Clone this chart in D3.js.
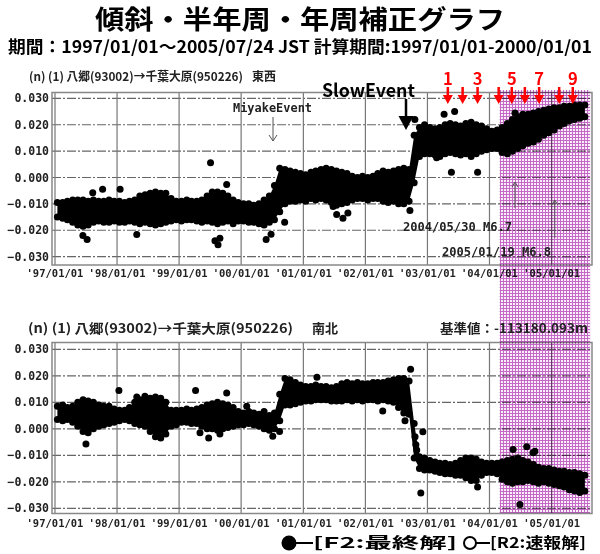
<!DOCTYPE html>
<html lang="ja">
<head>
<meta charset="utf-8">
<title>傾斜・半年周・年周補正グラフ</title>
<script src="https://d3js.org/d3.v7.min.js"></script>
<style>
  body { margin: 0; background: #fff; }
  svg text { font-family: "Noto Sans CJK JP", sans-serif; }
  svg .mono { font-family: "DejaVu Sans Mono", monospace; font-weight: bold; fill: #222; }
</style>
</head>
<body>
<div id="chart"></div>
<script>
"use strict"

// eixo x: rótulos dos anos
const yearDates = ["1997-01-01", "1998-01-01", "1999-01-01", "2000-01-01", "2001-01-01",
                   "2002-01-01", "2003-01-01", "2004-01-01", "2005-01-01"];
const yearLabels = ["'97/01/01", "'98/01/01", "'99/01/01", "'00/01/01", "'01/01/01",
                    "'02/01/01", "'03/01/01", "'04/01/01", "'05/01/01"];
const yTicks = [0.03, 0.02, 0.01, 0, -0.01, -0.02, -0.03];

// envelopes mensais (1997/01 .. 2005/07), em 0.001
const ewHigh = [-9.5,-9.5,-9,-8.5,-8.5,-8.5,-9,-8.5,-9,-9,-8.5,-9,
  -9,-9.5,-9,-8.5,-7,-6.5,-6,-5.5,-6,-6,-8,-9,
  -9,-8.5,-9,-9,-8.5,-7,-5.5,-5.5,-6,-7,-8.5,-9.5,
  -10,-10,-10.5,-10,-8.5,-7,-3,3.5,3,2.5,2,1.5,
  1,2,2.5,3,3.5,3,2.5,2,1.5,0.5,0,0.5,
  0,0.5,1.5,2.5,2,2.5,3,3.5,3,16,19,20,
  19,18.5,19,20,20.5,20,19.5,20.5,21,20,19.5,18.5,
  17.5,18,19,20.5,22,23,24,24,24.5,25,25.5,26,
  26.5,26.5,27,27,27.5,27.5,27.5];
const ewLow = [-15,-15.5,-16,-17,-18,-18.5,-18,-17,-16.5,-17,-17,-16.5,
  -17,-17,-16.5,-17,-17.5,-17,-17.5,-18,-17.5,-17,-16.5,-16,
  -16.5,-16,-16,-16.5,-17,-16.5,-17,-17.5,-17,-16.5,-17.5,-16.5,
  -16.5,-17,-17,-17.5,-18,-17,-16,-13,-10,-9,-9,-8.5,
  -9,-8,-8.5,-8,-8.5,-9.5,-10.5,-10,-9.5,-8.5,-8,-8,
  -8.5,-8,-8,-9,-9.5,-9,-10,-10,-9,-2,8,9,
  9,8.5,8,9,9.5,9,8.5,9,8,9,10,10.5,
  11,11,9.5,9,10,11,12,13,13.5,14.5,16,17,
  18,19.5,20.5,21.5,22,22.5,23];
const nsHigh = [8.5,9,8,8.5,10,11,10.5,10,9,8.5,8.5,7.5,
  7,7,8,10,11,10.5,11.5,12,11.5,10,7,7,
  7,7.5,7,7.5,8,9,9.5,10,9.5,9,8,6.5,
  6,6.5,6,5.5,6.5,5,6,13,19,18.5,17.5,16.5,
  16,16,16.5,16,16,15.5,16,17,17.5,17,17.5,17,
  17,17.5,17.5,17.5,18,18.5,19,19,18,2,-10.5,-11,
  -12,-12.5,-13,-13,-13.5,-13,-12,-11,-11,-11.5,-12.5,-13,
  -13,-13,-12.5,-12,-11.5,-11,-12,-12.5,-13.5,-14.5,-15,-15,
  -15.5,-16,-16,-16.5,-16.5,-17,-17.5];
const nsLow = [3.5,3,3.5,2.5,1,-1,-1.5,0,1,1.5,2,2.5,
  3,3.5,3,2,1.5,1,-1,-3,-3.5,-2,1,1.5,
  2.5,2.5,2,2,1,0,0,-0.5,0,0.5,1,1.5,
  1.5,2,1.5,1,0,-0.5,0,3,9,9,9.5,10,
  10.5,10.5,11,11,11,10.5,10.5,10.5,11,10.5,11,10.5,
  11,11,10.5,11,10.5,10,8,6,5.5,-11,-15,-15.5,
  -15.5,-16,-16.5,-17,-17,-17.5,-17.5,-18.5,-19.5,-19.5,-17.5,-16.5,
  -16.5,-17,-19,-20,-20.5,-20,-20,-19.5,-20,-20.5,-20,-20.5,
  -21,-21.5,-22,-23,-23.5,-24,-23.5];

// pontos isolados [data, valor em 0.001]
const ewOutliers = [["1997-06-14",-22],["1997-07-09",-23.5],["1997-08-11",-5.8],["1997-10-08",-4.5],
  ["1998-01-19",-4.5],["1998-04-27",-21.6],["1999-07-05",5.6],["1999-07-31",-24],["1999-08-18",-25.5],
  ["1999-08-29",-23],["1999-10-08",-2.7],["2000-05-27",-23.5],["2000-06-25",-21.5],["2000-09-13",-17],
  ["2001-06-25",-11],["2001-07-16",-14],["2001-08-22",-15.5],["2001-09-20",-13.5],["2002-09-20",-12.5],
  ["2002-10-19",22],["2003-02-24",7.5],["2003-04-09",24],["2003-05-22",2],["2003-06-10",25],
  ["2003-10-23",2],["2004-05-30",24.5]];
const nsOutliers = [["1997-07-02",-5.7],["1998-01-12",14.5],["1998-04-27",12],["1998-06-14",12.3],
  ["1999-04-08",14.5],["1999-05-04",-1.5],["1999-06-24",-3.5],["1999-08-29",-2],["1999-10-08",13.5],
  ["2000-02-03",8.5],["2000-07-05",-2.8],["2000-08-14",-1],["2001-03-22",19.5],["2002-04-13",6.7],
  ["2002-08-22",3],["2002-09-24",22.5],["2002-10-20",-3],["2002-10-25",-6],["2002-10-30",-8],
  ["2002-11-23",-24.2],["2002-12-05",-1.1],["2003-10-23",-22],["2004-05-19",-7.8],["2004-06-28",-28.6],
  ["2004-08-07",-6.8],["2004-09-13",-9],["2004-09-24",-8.5]];

// setas vermelhas (eventos) e faixa rosa
const redArrowDates = ["2003-05-01","2003-07-27","2003-10-23","2004-02-24","2004-05-11",
                       "2004-07-27","2004-10-19","2005-02-14","2005-05-05"];
const redNumbers = [["1",0],["3",2],["5",4],["7",6],["9",8]];
const shadeRange = ["2004-03-01","2005-08-15"];
const quakes = [["2004-05-30","2004/05/30 M6.7"],["2005-01-19","2005/01/19 M6.8"]];

const parse = d3.timeParse("%Y-%m-%d");
const months = d3.range(ewHigh.length).map(i => new Date(1997, i, 15));

const svg = d3.select("#chart").append("svg")
  .attr("width", 600).attr("height", 554);

const x = d3.scaleTime()
  .domain([parse("1997-01-01"), parse("2005-01-01")])
  .range([55, 551.7]);

const left = 52, right = 592;

const panels = [
  { top: 92.5, bottom: 265, y30: 98.4, yM30: 256.6, hi: ewHigh, lo: ewLow, out: ewOutliers, labY: 277 },
  { top: 342.5, bottom: 513.5, y30: 349.3, yM30: 508.3, hi: nsHigh, lo: nsLow, out: nsOutliers, labY: 527 }
];

panels.forEach(p => {
  const y = d3.scaleLinear().domain([-0.03, 0.03]).range([p.yM30, p.y30]);
  const g = svg.append("g");

  // grade
  g.selectAll(".hg").data(yTicks).enter().append("line")
    .attr("x1", left).attr("x2", right)
    .attr("y1", d => y(d)).attr("y2", d => y(d))
    .attr("stroke", "#666").attr("stroke-width", 1.2)
    .attr("stroke-dasharray", "9,2,2,2");
  g.selectAll(".vg").data(yearDates).enter().append("line")
    .attr("x1", d => x(parse(d))).attr("x2", d => x(parse(d)))
    .attr("y1", p.top).attr("y2", p.bottom)
    .attr("stroke", "#777").attr("stroke-width", 1.2);
  g.append("rect")
    .attr("x", left).attr("y", p.top)
    .attr("width", right - left).attr("height", p.bottom - p.top)
    .attr("fill", "none").attr("stroke", "#888").attr("stroke-width", 1.5);

  // rótulos
  g.selectAll(".yl").data(yTicks).enter().append("text")
    .attr("class", "mono")
    .attr("x", 49).attr("y", d => y(d) + 4)
    .attr("text-anchor", "end").attr("font-size", 11.5)
    .text(d => d3.format(".3f")(d));
  g.selectAll(".xl").data(yearDates).enter().append("text")
    .attr("class", "mono")
    .attr("x", d => x(parse(d))).attr("y", p.labY)
    .attr("text-anchor", "middle").attr("font-size", 10.5)
    .text((d, i) => yearLabels[i]);

  // dados
  const rows = months.map((m, i) => ({ date: m, hi: p.hi[i] / 1000, lo: p.lo[i] / 1000 }));
  g.append("path").datum(rows)
    .attr("fill", "#000")
    .attr("d", d3.area().x(d => x(d.date)).y0(d => y(d.lo)).y1(d => y(d.hi)));
  g.selectAll(".ph").data(rows).enter().append("circle")
    .attr("cx", d => x(d.date)).attr("cy", d => y(d.hi)).attr("r", 3.5);
  g.selectAll(".pl").data(rows).enter().append("circle")
    .attr("cx", d => x(d.date)).attr("cy", d => y(d.lo)).attr("r", 3.5);
  g.selectAll(".po").data(p.out).enter().append("circle")
    .attr("cx", d => x(parse(d[0]))).attr("cy", d => y(d[1] / 1000)).attr("r", 3.5);
});

// faixa rosa quadriculada (multiplicada sobre o desenho)
const defs = svg.append("defs");
const pat = defs.append("pattern").attr("id", "pink")
  .attr("width", 3).attr("height", 3).attr("patternUnits", "userSpaceOnUse");
pat.append("rect").attr("width", 3).attr("height", 3).attr("fill", "#c46ac6");
pat.append("rect").attr("width", 2).attr("height", 2).attr("fill", "#fbeefb");
svg.append("rect")
  .attr("x", x(parse(shadeRange[0]))).attr("y", 90)
  .attr("width", x(parse(shadeRange[1])) - x(parse(shadeRange[0])))
  .attr("height", 423)
  .attr("fill", "url(#pink)")
  .style("mix-blend-mode", "multiply");

// títulos
svg.append("text").attr("x", 95).attr("y", 29)
  .attr("font-size", 26).attr("font-weight", "bold")
  .attr("textLength", 410).attr("lengthAdjust", "spacingAndGlyphs")
  .text("傾斜・半年周・年周補正グラフ");
svg.append("text").attr("x", 8).attr("y", 53)
  .attr("font-size", 17).attr("font-weight", "bold")
  .attr("textLength", 584).attr("lengthAdjust", "spacingAndGlyphs")
  .text("期間：1997/01/01～2005/07/24 JST 計算期間:1997/01/01-2000/01/01");

svg.append("text").attr("x", 29).attr("y", 81)
  .attr("font-size", 12).attr("font-weight", "bold").attr("fill", "#222")
  .attr("textLength", 214).attr("lengthAdjust", "spacingAndGlyphs")
  .text("(n) (1) 八郷(93002)→千葉大原(950226)");
svg.append("text").attr("x", 252).attr("y", 81)
  .attr("font-size", 12).attr("font-weight", "bold").attr("fill", "#222")
  .text("東西");
svg.append("text").attr("x", 28).attr("y", 333)
  .attr("font-size", 13).attr("font-weight", "bold").attr("fill", "#222")
  .attr("textLength", 265).attr("lengthAdjust", "spacingAndGlyphs")
  .text("(n) (1) 八郷(93002)→千葉大原(950226)");
svg.append("text").attr("x", 312).attr("y", 333)
  .attr("font-size", 13).attr("font-weight", "bold").attr("fill", "#222")
  .text("南北");
svg.append("text").attr("x", 440).attr("y", 333)
  .attr("font-size", 13).attr("font-weight", "bold").attr("fill", "#222")
  .attr("textLength", 148).attr("lengthAdjust", "spacingAndGlyphs")
  .text("基準値：-113180.093m");

// anotações
svg.append("text").attr("class", "mono").attr("x", 233).attr("y", 112)
  .attr("font-size", 12).attr("textLength", 79).attr("lengthAdjust", "spacingAndGlyphs")
  .text("MiyakeEvent");
svg.append("path").attr("d", "M273,117V141M269,135L273,141L277,135")
  .attr("fill", "none").attr("stroke", "#555").attr("stroke-width", 1);

svg.append("text").attr("x", 322).attr("y", 97)
  .attr("font-family", "Liberation Sans, Arial, sans-serif")
  .attr("font-size", 18).attr("font-weight", "bold")
  .attr("textLength", 93).attr("lengthAdjust", "spacingAndGlyphs")
  .text("SlowEvent");
svg.append("line").attr("x1", 406).attr("x2", 406).attr("y1", 99).attr("y2", 118)
  .attr("stroke", "#000").attr("stroke-width", 2.5);
svg.append("path").attr("d", "M398.5,116L413.5,116L406,130Z").attr("fill", "#000");

quakes.forEach((q, i) => {
  const qx = x(parse(q[0]));
  const yTop = i === 0 ? 182 : 200, yBot = i === 0 ? 208 : 238;
  svg.append("path")
    .attr("d", `M${qx},${yBot}V${yTop}M${qx - 3},${yTop + 5}L${qx},${yTop}L${qx + 3},${yTop + 5}`)
    .attr("fill", "none").attr("stroke", "#555").attr("stroke-width", 1);
  svg.append("text").attr("class", "mono")
    .attr("x", i === 0 ? 403 : 442).attr("y", i === 0 ? 231 : 256)
    .attr("font-size", 12).attr("textLength", 109).attr("lengthAdjust", "spacingAndGlyphs")
    .text(q[1]);
});

// setas vermelhas
redArrowDates.forEach(d => {
  const ax = x(parse(d));
  svg.append("line").attr("x1", ax).attr("x2", ax).attr("y1", 87).attr("y2", 97)
    .attr("stroke", "#f00").attr("stroke-width", 2.5);
  svg.append("path").attr("d", `M${ax - 5},95L${ax + 5},95L${ax},104Z`).attr("fill", "#f00");
});
redNumbers.forEach(n => {
  svg.append("text").attr("x", x(parse(redArrowDates[n[1]]))).attr("y", 85)
    .attr("text-anchor", "middle")
    .attr("font-family", "Liberation Sans, Arial, sans-serif")
    .attr("font-size", 16.5).attr("font-weight", "bold").attr("fill", "#f00")
    .text(n[0]);
});

// legenda
svg.append("circle").attr("cx", 289).attr("cy", 543).attr("r", 7.5).attr("fill", "#000");
svg.append("line").attr("x1", 296).attr("x2", 313).attr("y1", 543).attr("y2", 543)
  .attr("stroke", "#000").attr("stroke-width", 2);
svg.append("text").attr("x", 313).attr("y", 548)
  .attr("font-size", 15).attr("font-weight", "bold")
  .attr("textLength", 144).attr("lengthAdjust", "spacingAndGlyphs")
  .text("[F2:最終解]");
svg.append("circle").attr("cx", 470).attr("cy", 543).attr("r", 6)
  .attr("fill", "none").attr("stroke", "#000").attr("stroke-width", 2);
svg.append("line").attr("x1", 476).attr("x2", 490).attr("y1", 543).attr("y2", 543)
  .attr("stroke", "#000").attr("stroke-width", 2);
svg.append("text").attr("x", 490).attr("y", 548)
  .attr("font-size", 15).attr("font-weight", "bold")
  .attr("textLength", 96).attr("lengthAdjust", "spacingAndGlyphs")
  .text("[R2:速報解]");
</script>
</body>
</html>
